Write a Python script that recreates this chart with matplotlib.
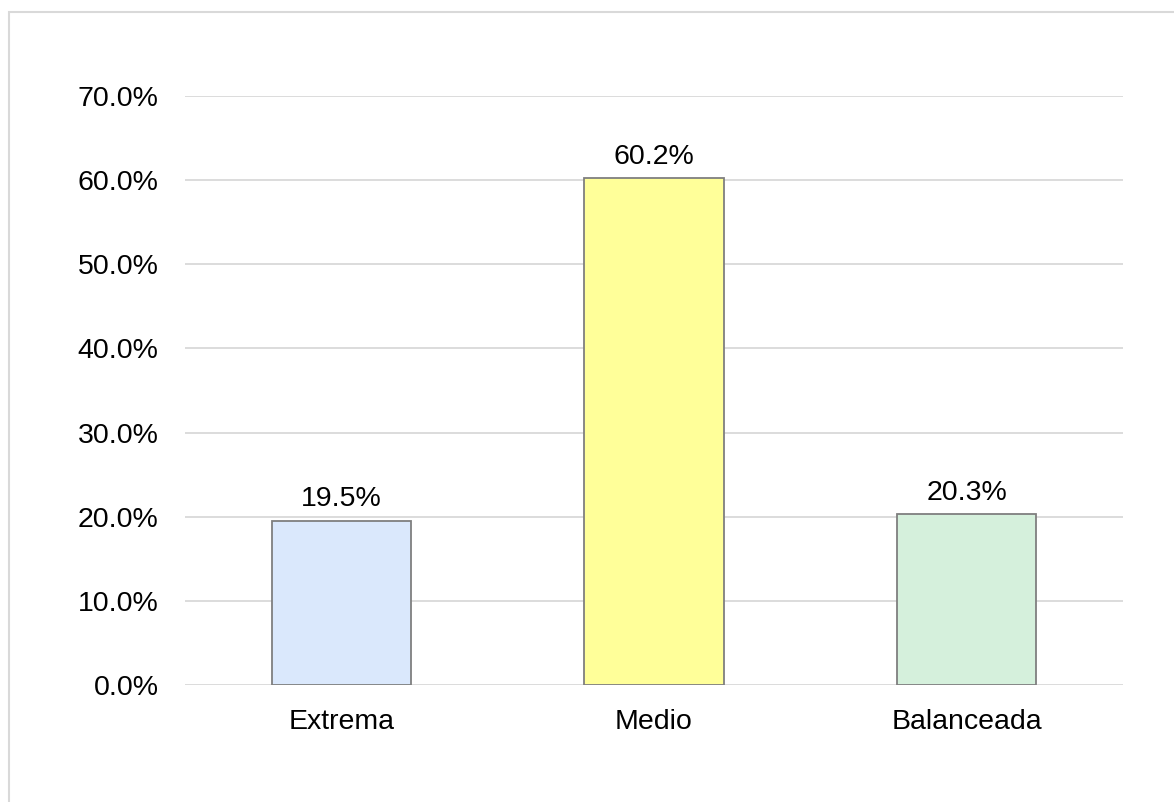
import matplotlib.pyplot as plt
from matplotlib.patches import Rectangle
from matplotlib.ticker import PercentFormatter

categorias = ["Extrema", "Medio", "Balanceada"]
porcentajes = [19.5, 60.2, 20.3]
colores = ["#DAE8FC", "#FFFF99", "#D5F0DC"]
ticks_y = [0, 10, 20, 30, 40, 50, 60, 70]

plt.rcParams['font.family'] = ['Liberation Sans', 'DejaVu Sans']

fig = plt.figure(figsize=(11.74, 8.02), dpi=100)
# marco gris del grafico
fig.patches.append(Rectangle((8.5 / 1174, -0.05), 1.2, (802 - 12.5) / 802 + 0.05,
                             transform=fig.transFigure, fill=False,
                             edgecolor="#D9D9D9", linewidth=1.5))

ax = fig.add_axes([185 / 1174, (802 - 685) / 802, (1123 - 185) / 1174, (685 - 96) / 802])
x = range(len(categorias))
bars = ax.bar(x, porcentajes, width=0.445, color=colores, edgecolor="#7F7F7F",
              linewidth=1.3, zorder=3)

for xi, v in zip(x, porcentajes):
    ax.annotate(f"{v:.1f}%", (xi, v), xytext=(0, 10.5), textcoords="offset points",
                ha="center", va="baseline", fontsize=20.5, color="#000000")

ax.set_xlim(-0.5, 2.5)
ax.set_ylim(0, 70)
ax.set_yticks(ticks_y)
ax.yaxis.set_major_formatter(PercentFormatter(decimals=1))
ax.set_xticks(list(x))
ax.set_xticklabels(categorias)
ax.tick_params(axis="y", length=0, pad=19, labelsize=20.5)
ax.tick_params(axis="x", length=0, pad=17, labelsize=20.5)
ax.grid(axis="y", color="#D9D9D9", linewidth=1.3, zorder=0)
ax.set_axisbelow(True)
for s in ax.spines.values():
    s.set_visible(False)

fig.savefig("out.png", dpi=100)
